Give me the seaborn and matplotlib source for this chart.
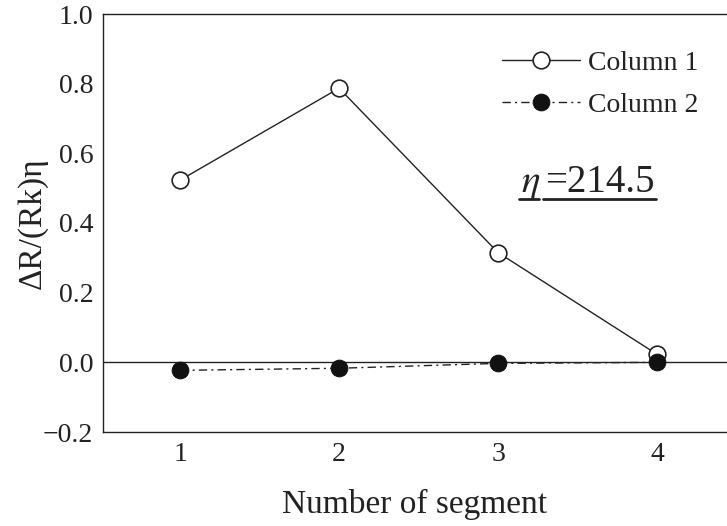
import matplotlib
matplotlib.use("Agg")
import matplotlib.pyplot as plt
from matplotlib.lines import Line2D
import seaborn as sns
import pandas as pd

segments = [1, 2, 3, 4]
column1 = [0.523, 0.787, 0.315, 0.023]
column2 = [-0.023, -0.017, -0.003, 0.0]
series_names = ["Column 1", "Column 2"]
y_ticks = [-0.2, 0.0, 0.2, 0.4, 0.6, 0.8, 1.0]
y_tick_labels = ["\u22120.2", "0.0", "0.2", "0.4", "0.6", "0.8", "1.0"]

sns.set_theme(style="white")
plt.rcParams["font.family"] = ["Liberation Serif", "DejaVu Serif"]
plt.rcParams["mathtext.fontset"] = "stix"

INK = "#222222"
df = pd.DataFrame({"seg": segments, "c1": column1, "c2": column2})

fig = plt.figure(figsize=(7.27, 5.26), dpi=100)
ax = fig.add_axes([103 / 727, 1 - 432 / 526, 1 - 103 / 727, (432 - 14) / 526])

ax.axhline(0.0, color=INK, lw=1.0, zorder=1)

sns.lineplot(data=df, x="seg", y="c1", ax=ax, color=INK, lw=1.0,
             marker="o", markersize=12, markerfacecolor="white",
             markeredgecolor=INK, markeredgewidth=1.2, zorder=3,
             label=series_names[0])
sns.lineplot(data=df, x="seg", y="c2", ax=ax, color=INK, lw=1.0,
             dashes=(6, 3, 1.5, 3), marker="o", markersize=12,
             markerfacecolor="#111111", markeredgecolor="#111111", zorder=4,
             label=series_names[1])

ax.set_xlim(0.515, 4.44)
ax.set_ylim(-0.2, 1.0)
ax.set_xticks(segments)
ax.set_xticklabels([str(s) for s in segments])
ax.set_yticks(y_ticks)
ax.set_yticklabels(y_tick_labels)
ax.tick_params(axis="y", direction="in", length=7, width=1, color=INK,
               labelsize=20, pad=7, labelcolor=INK)
ax.tick_params(axis="x", length=0, labelsize=20, pad=7, labelcolor=INK)

for side in ["left", "bottom", "top"]:
    ax.spines[side].set_color(INK)
    ax.spines[side].set_linewidth(1.0)
ax.spines["right"].set_visible(False)

ax.set_xlabel("Number of segment", fontsize=24, color=INK, labelpad=16)
ax.set_ylabel("\u0394R/(Rk)\u03b7", fontsize=24, color=INK)
ax.yaxis.set_label_coords(-0.089, 0.5)

leg = ax.legend(loc="upper left", bbox_to_anchor=(0.639, 0.913),
                frameon=False, fontsize=20, handlelength=2.8,
                handletextpad=0.3, labelspacing=0.6, borderpad=0,
                borderaxespad=0)
for t in leg.get_texts():
    t.set_color(INK)

# eta annotation with underlines
ax.text(0.670, 0.573, r"$\eta$", transform=ax.transAxes, fontsize=28,
        color=INK, ha="left", va="baseline")
ax.text(0.709, 0.573, "=214.5", transform=ax.transAxes, fontsize=28,
        color=INK, ha="left", va="baseline")
ax.add_line(Line2D([0.667, 0.699], [0.557, 0.557], transform=ax.transAxes,
                   color=INK, lw=2.0))
ax.add_line(Line2D([0.705, 0.886], [0.557, 0.557], transform=ax.transAxes,
                   color=INK, lw=2.0))

fig.savefig("out.png", dpi=100)
